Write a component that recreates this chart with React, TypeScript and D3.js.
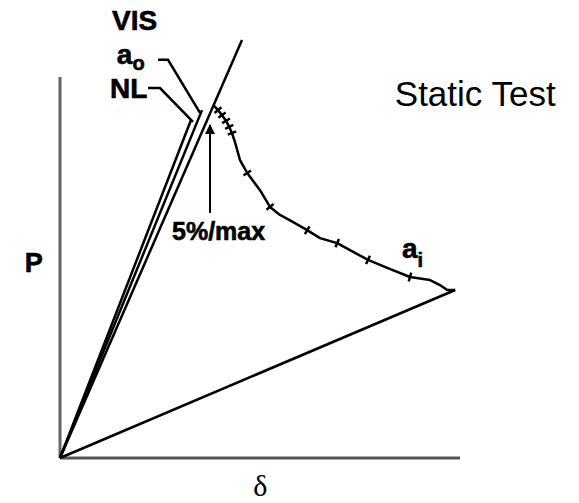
import React from 'react'
import * as d3 from 'd3'

// load-deflection record of the static test (P and delta in % of frame)
const curveX = [38.3, 39.5, 40.5, 41.5, 42.3, 43.0, 43.8, 45.0, 46.8, 50.0, 52.5, 55.0, 58.3, 61.8, 65.0, 69.3, 73.3, 77.0, 81.8, 87.5, 92.5, 95.0, 96.8, 98.8]
const curveY = [92.7, 91.3, 90.0, 88.5, 86.9, 85.3, 82.7, 78.2, 74.8, 70.3, 65.9, 63.8, 61.9, 59.8, 57.7, 56.4, 54.1, 52.0, 49.9, 47.5, 46.7, 45.4, 44.1, 44.1]
const tickIdx = [1, 2, 3, 4, 5, 8, 10, 13, 15, 17, 19]

// straight lines from the origin: VIS, a0, NL
const rayEnds = [
  { name: 'VIS', x: 45.5, y: 109.7 },
  { name: 'ao', x: 35.5, y: 91.3 },
  { name: 'NL', x: 32.75, y: 88.7 },
]

const leaderAo = [[24.5, 104.5], [27, 104.5], [35, 90.6]]
const leaderNl = [[22, 97.1], [25, 97.1], [33.25, 88.2]]
const arrow = { x: 37.5, y0: 64.3, y1: 87.4 }

const W = 579
const H = 503
const sans = '"Liberation Sans", Arial, Helvetica, sans-serif'

export default function App() {
  const x = d3.scaleLinear().domain([0, 100]).range([60, 460])
  const y = d3.scaleLinear().domain([0, 100]).range([458, 77])

  const pts: [number, number][] = curveX.map((v, i) => [v, curveY[i]])
  const line = d3.line<[number, number]>().x(d => x(d[0])).y(d => y(d[1]))
  const last = pts[pts.length - 1]

  const ticks = tickIdx.map(i => {
    const a = pts[Math.max(i - 1, 0)], b = pts[Math.min(i + 1, pts.length - 1)]
    const dx = x(b[0]) - x(a[0]), dy = y(b[1]) - y(a[1])
    const len = Math.hypot(dx, dy) || 1
    const nx = -dy / len * 4.5, ny = dx / len * 4.5
    const cx = x(pts[i][0]), cy = y(pts[i][1])
    return { x1: cx - nx, y1: cy - ny, x2: cx + nx, y2: cy + ny }
  })

  return (
    <svg width={W} height={H} style={{ position: 'absolute', left: 0, top: 0, background: '#fff' }}>
      <defs>
        <marker id="arr" viewBox="0 0 10 10" refX="9" refY="5" markerWidth="5" markerHeight="7" orient="auto">
          <path d="M0,0 L10,5 L0,10 z" fill="#000" />
        </marker>
      </defs>

      {/* axes */}
      <line x1={x(0)} y1={y(0)} x2={x(0)} y2={y(100)} stroke="#666" strokeWidth={3} />
      <line x1={x(0)} y1={y(0)} x2={x(100)} y2={y(0)} stroke="#555" strokeWidth={3} />

      {/* rays */}
      {rayEnds.map(r => (
        <line key={r.name} x1={x(0)} y1={y(0)} x2={x(r.x)} y2={y(r.y)} stroke="#000" strokeWidth={2.5} />
      ))}
      <line x1={x(0)} y1={y(0)} x2={x(last[0])} y2={y(last[1])} stroke="#000" strokeWidth={2.6} />

      {/* record */}
      <path d={line(pts) || ''} fill="none" stroke="#000" strokeWidth={2.5} strokeLinejoin="round" />
      {ticks.map((t, i) => (
        <line key={i} {...t} stroke="#000" strokeWidth={2.5} />
      ))}

      {/* leaders */}
      <path d={line(leaderAo as [number, number][]) || ''} fill="none" stroke="#000" strokeWidth={2.5} />
      <path d={line(leaderNl as [number, number][]) || ''} fill="none" stroke="#000" strokeWidth={2.5} />

      {/* 5%/max arrow */}
      <line x1={x(arrow.x)} y1={y(arrow.y0)} x2={x(arrow.x)} y2={y(arrow.y1)} stroke="#000" strokeWidth={2} markerEnd="url(#arr)" />

      {/* labels */}
      <g fontFamily={sans} fontWeight="bold" fill="#000" stroke="#000" strokeWidth={0.6}>
        <text x={x(13)} y={y(112.3)} fontSize={28}>VIS</text>
        <text x={x(14.2)} y={y(103.5)} fontSize={28}>a<tspan fontSize={20} dy={6}>o</tspan></text>
        <text x={x(12.5)} y={y(94.5)} fontSize={28}>NL</text>
        <text x={x(-8.8)} y={y(48.8)} fontSize={27}>P</text>
        <text x={x(28)} y={y(57.2)} fontSize={25}>5%/max</text>
        <text x={x(85.5)} y={y(52.5)} fontSize={28}>a<tspan fontSize={20} dy={9}>i</tspan></text>
      </g>
      <text x={x(83.7)} y={y(92.4)} fontFamily={sans} fontSize={35} fill="#000">Static Test</text>
      <text x={x(48.3)} y={y(-10)} fontFamily='"Liberation Serif", "DejaVu Serif", serif' fontSize={30} fill="#000">δ</text>
    </svg>
  )
}
